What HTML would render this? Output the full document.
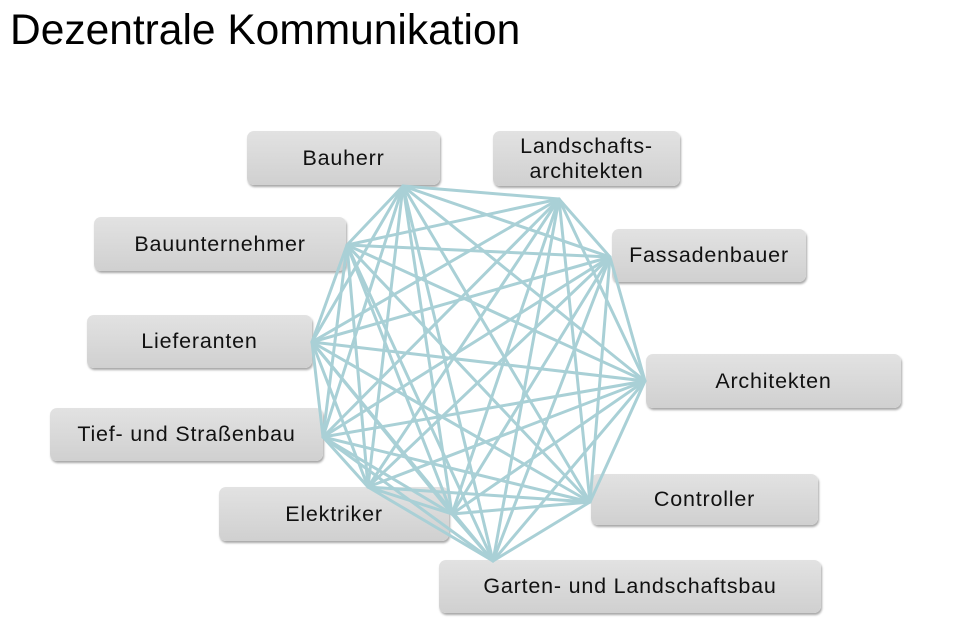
<!DOCTYPE html>
<html><head><meta charset="utf-8"><style>
body{margin:0;width:958px;height:639px;background:#fff;position:relative;overflow:hidden;font-family:"Liberation Sans",sans-serif}
h1{position:absolute;left:10px;top:7px;margin:0;font-weight:normal;font-size:42.5px;color:#000;letter-spacing:0}
.b{position:absolute;box-sizing:border-box;border-radius:7px;background:linear-gradient(#e2e2e2,#d0d0d0);box-shadow:1px 2px 2px rgba(0,0,0,.35);display:flex;align-items:center;justify-content:center;text-align:center;font-size:21.5px;letter-spacing:0.8px;line-height:25px;color:#111}
svg{position:absolute;left:0;top:0}
</style></head><body>
<h1>Dezentrale Kommunikation</h1>
<div class="b" style="left:247px;top:131px;width:193px;height:54px">Bauherr</div>
<div class="b" style="left:493px;top:131px;width:187px;height:55px">Landschafts-<br>architekten</div>
<div class="b" style="left:94px;top:217px;width:252px;height:54px">Bauunternehmer</div>
<div class="b" style="left:612px;top:229px;width:194px;height:53px">Fassadenbauer</div>
<div class="b" style="left:87px;top:315px;width:225px;height:53px">Lieferanten</div>
<div class="b" style="left:646px;top:354px;width:255px;height:54px">Architekten</div>
<div class="b" style="left:50px;top:408px;width:273px;height:53px">Tief- und Straßenbau</div>
<div class="b" style="left:591px;top:474px;width:227px;height:51px">Controller</div>
<div class="b" style="left:219px;top:487px;width:230px;height:54px">Elektriker</div>
<div class="b" style="left:439px;top:560px;width:382px;height:53px">Garten- und Landschaftsbau</div>
<svg width="958" height="639" id="s"></svg>
<script>
var p=[[403,186],[559,199],[610,257],[645,381],[590,502],[493,561],[452,514],[368,487],[323,437],[312,342],[347,245]];
var s='';
for(var i=0;i<p.length;i++)for(var j=i+1;j<p.length;j++)s+='<line x1="'+p[i][0]+'" y1="'+p[i][1]+'" x2="'+p[j][0]+'" y2="'+p[j][1]+'"/>';
var g=document.getElementById('s');
g.innerHTML='<g stroke="#a9d0d6" stroke-width="3" stroke-linecap="round">'+s+'</g>';
</script>
</body></html>
